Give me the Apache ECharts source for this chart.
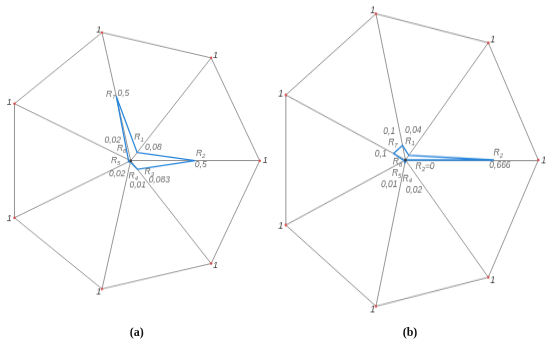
<!DOCTYPE html>
<html><head><meta charset="utf-8">
<script src="https://cdn.jsdelivr.net/npm/echarts@6/dist/echarts.min.js"></script>
<style>
html,body{margin:0;padding:0;background:#fff;}
#base{position:absolute;left:0;top:0;width:550px;height:342px;}
.rad{position:absolute;top:0;width:275px;height:342px;}
</style>
</head><body>
<div id="base"></div>
<div id="ca" class="rad" style="left:0"></div>
<div id="cb" class="rad" style="left:275px"></div>
<script>
// axes, counter-clockwise starting from the right
const axisNames = ['R2', 'R1', 'R7', 'R6', 'R5', 'R4', 'R3'];
const vertexLabels = ['1', '1', '1', '1', '1', '1', '1'];
const axisMax = [1, 1, 1, 1, 1, 1, 1];
const valuesA = [0.5, 0.08, 0.5, 0.02, 0.02, 0.01, 0.083];
const valuesB = [0.666, 0.04, 0.1, 0.1, 0.01, 0.02, 0];
const valueTextA = ['0,5', '0,08', '0,5', '0,02', '0,02', '0,01', '0,083'];
const valueTextB = ['0,666', '0,04', '0,1', '0,1', '0,01', '0,02', ''];
const nameSuffixA = ['', '', '', '', '', '', ''];
const nameSuffixB = ['', '', '', '', '', '', '=0'];
const captions = ['(a)', '(b)'];

// layout (pixels)
const layoutA = {
  cx: 130.7, cy: 160.7, rx: 129, ry: 131.5,
  nameOff: [[5.5,-7.4],[1.9,-15.2],[-5.6,-2.3],[-6.7,-11.3],[-12.7,-1.1],[2.9,13.7],[11.9,3.1]],
  valOff: [[5.5,3.6],[16.2,-4.8],[7,-3.3],[-15.7,-19.6],[-11.1,12.2],[7.3,23],[21.9,10.8]]
};
const layoutB = {
  cx: 130.5, cy: 160, rx: 132.8, ry: 150,
  nameOff: [[4.4,-7.3],[1.2,-14.3],[-9.6,-2.4],[4,8.8],[-7.6,12.6],[2.4,15.4],[19.5,6.7]],
  valOff: [[6,5],[4.5,-24.6],[-13.3,-13.7],[-12.8,0],[-15,24.3],[9,27],[0,0]]
};

const FONT = '"Liberation Sans", "DejaVu Sans", sans-serif';
const GRAY = '#959595';
const BLUE = '#2a86da';

function buildOption(values, valueText, suffix, L) {
  const k = L.ry / L.rx;
  const n = axisNames.length;
  const labelItems = [];
  axisNames.forEach((nm, i) => {
    const ang = i * 360 / n;
    labelItems.push({
      value: [values[i], ang],
      label: {
        offset: [L.nameOff[i][0], L.nameOff[i][1] / k],
        formatter: '{r|' + nm[0] + '}{s|' + nm.slice(1) + '}' + (suffix[i] ? '{r|' + suffix[i] + '}' : '')
      }
    });
    if (valueText[i]) {
      labelItems.push({
        value: [values[i], ang],
        label: {
          offset: [L.valOff[i][0], L.valOff[i][1] / k],
          formatter: '{r|' + valueText[i] + '}'
        }
      });
    }
  });
  return {
    animation: false,
    radar: {
      center: [L.cx, L.cy],
      radius: L.rx,
      startAngle: 0,
      shape: 'polygon',
      splitNumber: 1,
      indicator: vertexLabels.map((t, i) => ({ name: t, max: axisMax[i], min: 0 })),
      axisName: { color: '#444', fontStyle: 'italic', fontWeight: 'normal', fontSize: 9, fontFamily: FONT },
      nameGap: 3,
      axisLine: { lineStyle: { color: GRAY, width: 1 } },
      splitLine: { lineStyle: { color: GRAY, width: 1 } },
      splitArea: { show: false },
      axisTick: { show: false },
      axisLabel: { show: false }
    },
    polar: { center: [L.cx, L.cy], radius: L.rx },
    angleAxis: { type: 'value', min: 0, max: 360, startAngle: 0, clockwise: false, show: false },
    radiusAxis: { type: 'value', min: 0, max: 1, show: false },
    series: [
      {
        type: 'radar',
        symbol: 'circle', symbolSize: 2.5,
        itemStyle: { color: '#d9534f' },
        lineStyle: { width: 0, opacity: 0 },
        data: [{ value: axisMax }],
        z: 3
      },
      {
        type: 'radar',
        symbol: 'none',
        lineStyle: { color: BLUE, width: 1.3 },
        data: [{ value: values }],
        z: 4
      },
      {
        type: 'scatter',
        coordinateSystem: 'polar',
        symbolSize: 3,
        itemStyle: { color: '#333' },
        data: [[0, 0]],
        z: 5
      },
      {
        type: 'scatter',
        coordinateSystem: 'polar',
        symbolSize: 0,
        label: {
          show: true, position: 'inside',
          rich: {
            r: { fontSize: 8.5, fontStyle: 'italic', fontFamily: FONT, color: '#444' },
            s: { fontSize: 6, fontStyle: 'italic', fontFamily: FONT, color: '#444', padding: [5, 0, 0, 0] }
          }
        },
        data: labelItems,
        z: 6
      }
    ]
  };
}

function mount(id, values, valueText, suffix, L) {
  const el = document.getElementById(id);
  el.style.transformOrigin = '0 ' + L.cy + 'px';
  el.style.transform = 'scaleY(' + (L.ry / L.rx) + ')';
  const c = echarts.init(el, null, { renderer: 'canvas' });
  c.setOption(buildOption(values, valueText, suffix, L));
}

const base = echarts.init(document.getElementById('base'));
base.setOption({
  animation: false,
  graphic: [
    { type: 'text', x: 136.7, y: 333, style: { text: captions[0], align: 'center', verticalAlign: 'middle', font: 'bold 12px "Liberation Serif", serif', fill: '#111' } },
    { type: 'text', x: 410, y: 333, style: { text: captions[1], align: 'center', verticalAlign: 'middle', font: 'bold 12px "Liberation Serif", serif', fill: '#111' } }
  ]
});

mount('ca', valuesA, valueTextA, nameSuffixA, layoutA);
mount('cb', valuesB, valueTextB, nameSuffixB, layoutB);
</script>
</body></html>
